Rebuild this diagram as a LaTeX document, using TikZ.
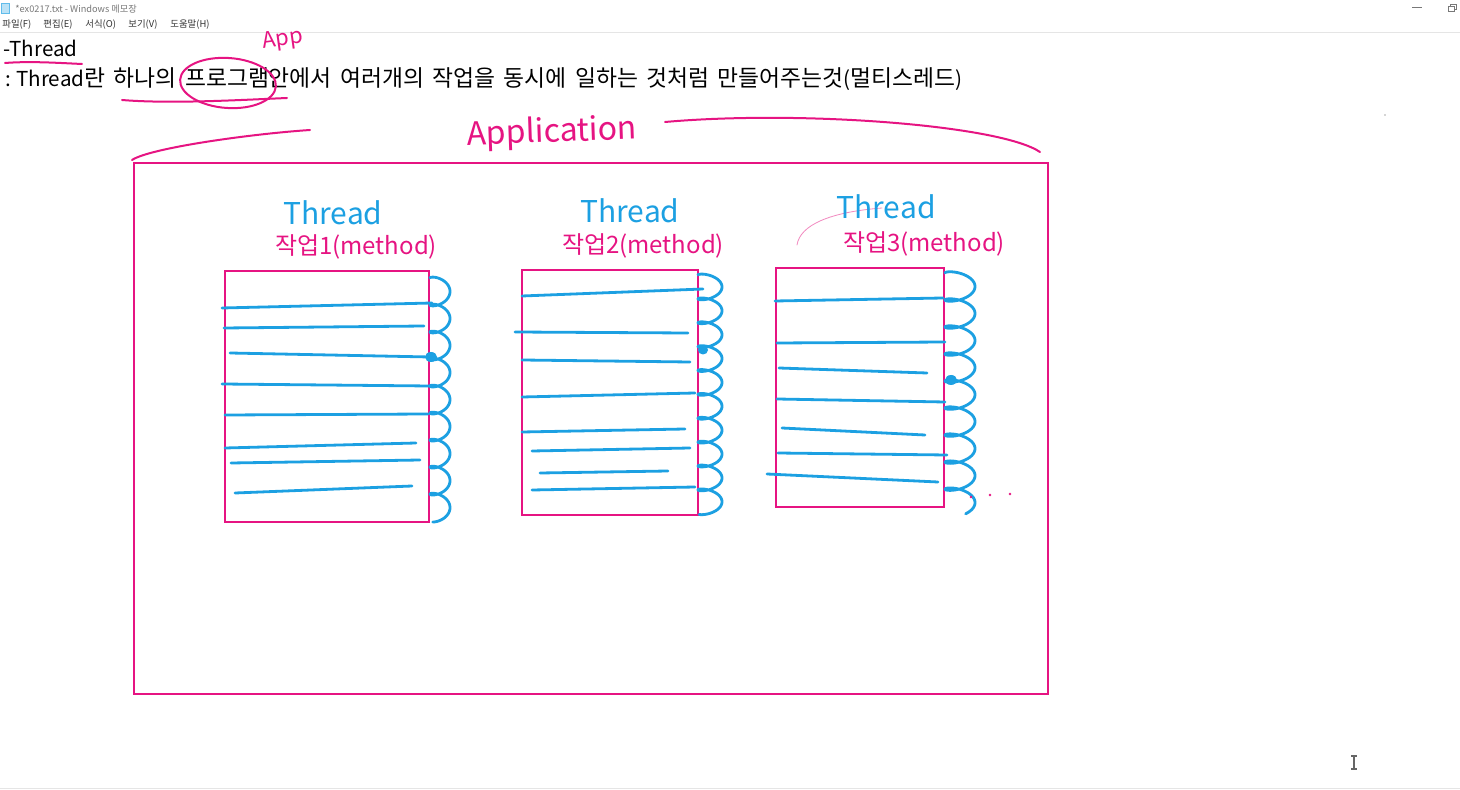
\documentclass[tikz,border=0pt]{standalone}
\usepackage{fontspec}
\setmainfont{Noto Sans CJK KR}
\definecolor{pen}{RGB}{230,20,130}
\definecolor{ink}{RGB}{28,160,226}
\definecolor{uigray}{RGB}{120,120,120}
\newcommand{\drawcoil}[6]{\draw[blueline] plot[domain=0:#6, samples=600, variable=\t] ({#1 + #3*(1-cos(\t r))}, {#2 + #4*\t - #5*sin(\t r)});}
\newcommand{\lat}[1]{{\fontsize{10.3}{12}\selectfont #1}}
\tikzset{
  frame/.style={draw=pen, line width=0.75pt},
  pinkpen/.style={draw=pen, line width=1pt, line cap=round, line join=round},
  thinpen/.style={draw=pen!50, line width=0.4pt, line cap=round},
  blueline/.style={draw=ink, line width=1.4pt, line cap=round, line join=round},
  hand/.style={inner sep=0pt},
  threadlbl/.style={hand, text=ink, font=\fontsize{15}{18}\selectfont},
  worklbl/.style={hand, text=pen, font=\fontsize{12}{15}\selectfont},
  menulbl/.style={anchor=west, inner sep=0pt, text=black!80, font=\fontsize{4.7}{6}\selectfont},
  bodytext/.style={anchor=base west, inner sep=0pt, text=black, font=\fontsize{10.3}{12}\selectfont}
}
\begin{document}
\begin{tikzpicture}[x=0.5pt, y=-0.5pt]
\useasboundingbox (0,0) rectangle (1460,790);
\fill[white] (0,0) rectangle (1460,790);
% title bar
\fill[ink!30] (1,3) rectangle (9,13);
\draw[ink!70, line width=0.3pt] (1,3) rectangle (9,13);
\node[anchor=west, inner sep=0pt, text=uigray, font=\fontsize{4.6}{6}\selectfont] (title) at (15,9) {*ex0217.txt - Windows 메모장};
\draw[uigray, line width=0.3pt] (1412,7) -- (1422,7);
\draw[uigray, line width=0.3pt] (1448,6) rectangle (1454,11);
\draw[uigray, line width=0.3pt] (1450,6) -- (1450,4) -- (1456,4) -- (1456,9) -- (1454,9);
% menu
\node[menulbl] (mfile) at (2,25) {파일(F)};
\node[menulbl] (medit) at (43,25) {편집(E)};
\node[menulbl] (mform) at (85,25) {서식(O)};
\node[menulbl] (mview) at (128,25) {보기(V)};
\node[menulbl] (mhelp) at (170,25) {도움말(H)};
\draw[black!10, line width=0.5pt] (0,33) -- (1460,33);
\draw[black!10, line width=0.5pt] (0,788) -- (1460,788);
% body text
\node[bodytext] (head) at (3,57) {-Thread};
\node[bodytext, font=\fontsize{11.4}{13}\selectfont] (desc) at (5,87) {\spaceskip=4.2pt\relax\lat{:\hspace{2.6pt}Thread}란 하나의 프로그램안에서 여러개의 작업을 동시에 일하는 것처럼 만들어주는것\lat{(}멀티스레드\lat{)}};
% annotations on text
\draw[pinkpen] (5,63) .. controls (30,61) and (60,63) .. (82,64);
\draw[pinkpen] (122,100) .. controls (170,104) and (240,100) .. (287,98);
\draw[pinkpen, rotate around={-4:(228,83)}] (228,83) ellipse (48 and 25);
\node[hand, text=pen, font=\fontsize{11}{13}\selectfont, rotate=8] (app) at (283,40) {App};
% Application label and arcs
\node[hand, text=pen, font=\fontsize{16}{19}\selectfont, rotate=2] (applbl) at (552,133) {Application};
\draw[pinkpen] (132,160) .. controls (150,148) and (250,134) .. (310,130);
\draw[pinkpen] (665,122) .. controls (800,110) and (1000,125) .. (1040,152);
% application frame
\draw[frame] (134,163) rectangle (1048,694);
% thread boxes
\draw[frame] (225,271) rectangle (429,522);
\draw[frame] (522,270) rectangle (698,515);
\draw[frame] (776,268) rectangle (944,507);
% labels
\node[threadlbl] (th1) at (333,213) {Thread};
\node[worklbl] (w1) at (356,247) {작업1(method)};
\node[threadlbl] (th2) at (630,211) {Thread};
\node[worklbl] (w2) at (643,246) {작업2(method)};
\draw[thinpen] (797,245) .. controls (800,225) and (830,212) .. (882,208);
\node[threadlbl] (th3) at (886,207) {Thread};
\node[worklbl] (w3) at (924,244) {작업3(method)};
% lines box 1
\draw[blueline] (222,308) -- (432,303);
\draw[blueline] (224,328) -- (424,326);
\draw[blueline] (230,353) -- (430,357);
\draw[blueline] (222,384) -- (430,386);
\draw[blueline] (225,415) -- (428,414);
\draw[blueline] (225,448) -- (416,443);
\draw[blueline] (231,463) -- (420,460);
\draw[blueline] (235,493) -- (412,486);
% lines box 2
\draw[blueline] (522,296) -- (703,289);
\draw[blueline] (515,332) -- (688,333);
\draw[blueline] (522,360) -- (690,362);
\draw[blueline] (522,397) -- (695,393);
\draw[blueline] (522,432) -- (685,429);
\draw[blueline] (532,451) -- (690,448);
\draw[blueline] (540,473) -- (668,471);
\draw[blueline] (532,490) -- (695,487);
% lines box 3
\draw[blueline] (775,301) -- (943,298);
\draw[blueline] (777,343) -- (945,342);
\draw[blueline] (779,368) -- (927,373);
\draw[blueline] (777,399) -- (945,402);
\draw[blueline] (782,428) -- (925,435);
\draw[blueline] (778,453) -- (947,455);
\draw[blueline] (767,474) -- (938,482);
% coils
\drawcoil{430}{278}{10}{4.3}{6}{55.8}
\drawcoil{698}{275}{12}{3.8}{5.5}{62.4}
\drawcoil{945}{273}{15}{4.3}{6.5}{54.6}
% dots
\fill[ink] (431,357) ellipse (6 and 5);
\fill[ink] (703,350) ellipse (5 and 4.5);
\fill[ink] (951,380) ellipse (6 and 5);
\fill[pen] (971,497) circle (1.4);
\fill[pen] (990,495) circle (1.4);
\fill[pen] (1010,494) circle (1.4);
% misc
\fill[black!70] (1385,115) circle (0.7);
\draw[black!60, line width=0.6pt] (1354,756) -- (1354,769);
\draw[black!60, line width=0.6pt] (1351,756) -- (1357,756);
\draw[black!60, line width=0.6pt] (1351,769) -- (1357,769);
\end{tikzpicture}
\end{document}
